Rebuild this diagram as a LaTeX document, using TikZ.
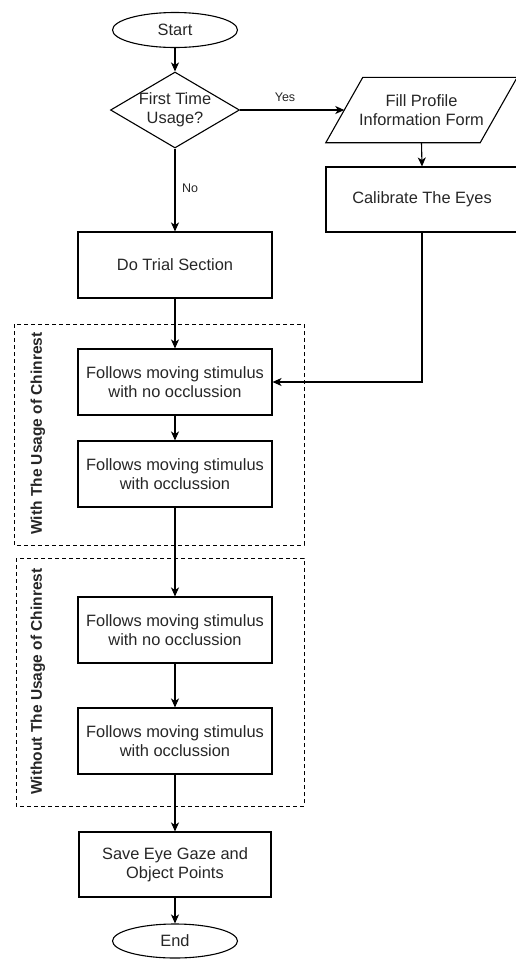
\documentclass[tikz,border=0pt]{standalone}
\usepackage{fontspec}
\setmainfont{Liberation Sans}
\usetikzlibrary{shapes.geometric,arrows.meta}
\begin{document}
\begin{tikzpicture}[x=1pt,y=-1pt,
  every node/.style={font=\fontsize{16.4}{18.5}\selectfont, text=black!85, align=center},
  proc/.style={draw, line width=1.1pt, minimum width=194pt, minimum height=66pt, inner sep=0pt},
  term/.style={draw, ellipse, line width=1.1pt, minimum width=125pt, minimum height=35pt, inner sep=0pt},
  dec/.style={draw, diamond, aspect=1.7, line width=1.1pt, minimum width=129pt, minimum height=76pt, inner sep=-2.5pt},
  conn/.style={line width=1.1pt, -{Stealth[length=9pt,width=8pt,inset=2.5pt]}},
  frame/.style={dashed, line width=0.9pt, dash pattern=on 4pt off 3pt},
  lbl/.style={font=\fontsize{12.5}{14}\selectfont},
  grp/.style={font=\fontsize{15.5}{18}\selectfont\bfseries, rotate=90}
]
\useasboundingbox (0,0) rectangle (515,959);

% group frames
\draw[frame] (14,324) rectangle (304,545);
\draw[frame] (16,558) rectangle (304,806);
\node[grp] (g1) at (38,433.5) {With The Usage of Chinrest};
\node[grp] (g2) at (38,681.5) {Without The Usage of Chinrest};

% nodes
\node[term] (start) at (175,30) {Start};
\node[dec] (q) at (175,110) {First Time\\Usage?};
\node[minimum width=154pt, minimum height=65pt, inner sep=0pt] (fill) at (421.5,110) {Fill Profile\\Information Form};
\draw[line width=1.1pt] ([xshift=-18.5pt]fill.south west) -- ([xshift=18.5pt]fill.north west)
  -- ([xshift=18.5pt]fill.north east) -- ([xshift=-18.5pt]fill.south east) -- cycle;
\node[proc, minimum width=192pt, minimum height=65pt] (calib) at (422,199.5) {Calibrate The Eyes};
\node[proc] (trial) at (175,265) {Do Trial Section};
\node[proc] (b1) at (175,382) {Follows moving stimulus\\with no occlussion};
\node[proc] (b2) at (175,474) {Follows moving stimulus\\with occlussion};
\node[proc] (b3) at (175,630) {Follows moving stimulus\\with no occlussion};
\node[proc] (b4) at (175,741) {Follows moving stimulus\\with occlussion};
\node[proc, minimum width=192pt, minimum height=65pt] (save) at (175,864.5) {Save Eye Gaze and\\Object Points};
\node[term, minimum height=34pt] (end) at (175,941) {End};

% connectors
\draw[conn] (start) -- (q);
\draw[conn] (q.east) -- (fill.west);
\node[lbl] (yes) at (285,97) {Yes};
\draw[conn] (q.south) -- (trial.north);
\node[lbl] (no) at (190,188) {No};
\draw[conn] (fill.south) -- (calib.north);
\draw[conn] (calib.south) |- (b1.east);
\draw[conn] (trial) -- (b1);
\draw[conn] (b1) -- (b2);
\draw[conn] (b2) -- (b3);
\draw[conn] (b3) -- (b4);
\draw[conn] (b4) -- (save);
\draw[conn] (save) -- (end);
\end{tikzpicture}
\end{document}
